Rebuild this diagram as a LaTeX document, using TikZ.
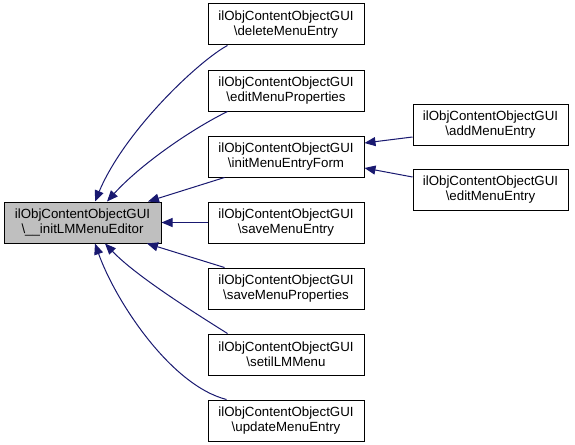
\documentclass[tikz,border=0pt]{standalone}
\usepackage{fontspec}
\setmainfont{Liberation Sans}
\usetikzlibrary{arrows.meta}
\definecolor{edgeblue}{RGB}{25,25,112}
\definecolor{mainfill}{RGB}{191,191,191}
\begin{document}
\begin{tikzpicture}[x=1pt,y=-1pt,
  box/.style={draw=black,line width=1pt,fill=white,minimum width=156pt,minimum height=41pt,inner sep=0pt,align=center,font=\fontsize{13.3}{15}\selectfont},
  edge/.style={draw=edgeblue,line width=1pt,{Triangle[length=11pt,width=9pt,fill=edgeblue]}-}]
\useasboundingbox (0,0) rectangle (575,444);
\node[box,fill=mainfill,minimum width=157pt] (main) at (82.5,222.5) {ilObjContentObjectGUI\\\textbackslash\_\_initLMMenuEditor};
\node[box] (del) at (286,24.5) {ilObjContentObjectGUI\\\textbackslash deleteMenuEntry};
\node[box] (eprop) at (286,90.5) {ilObjContentObjectGUI\\\textbackslash editMenuProperties};
\node[box] (init) at (286,156.5) {ilObjContentObjectGUI\\\textbackslash initMenuEntryForm};
\node[box] (save) at (286,222.5) {ilObjContentObjectGUI\\\textbackslash saveMenuEntry};
\node[box] (sprop) at (286,288.5) {ilObjContentObjectGUI\\\textbackslash saveMenuProperties};
\node[box] (setil) at (286,354.5) {ilObjContentObjectGUI\\\textbackslash setilLMMenu};
\node[box] (upd) at (286,420.5) {ilObjContentObjectGUI\\\textbackslash updateMenuEntry};
\node[box,minimum width=155pt] (add) at (490.5,124.5) {ilObjContentObjectGUI\\\textbackslash addMenuEntry};
\node[box,minimum width=155pt] (edit) at (490.5,190) {ilObjContentObjectGUI\\\textbackslash editMenuEntry};
\draw[edge] ([xshift=12.5pt]main.north) .. controls (125,130) and (200,60) .. ([xshift=20pt]del.south west);
\draw[edge] ([xshift=24.5pt]main.north) .. controls (140,165) and (190,130) .. ([xshift=20pt]eprop.south west);
\draw[edge] ([xshift=65.5pt]main.north) -- ([xshift=17pt]init.south west);
\draw[edge] (main.east) -- (save.west);
\draw[edge] ([xshift=64.5pt]main.south) -- ([xshift=17pt]sprop.north west);
\draw[edge] ([xshift=22.5pt]main.south) .. controls (135,275) and (190,310) .. ([xshift=20pt]setil.north west);
\draw[edge] ([xshift=12.5pt]main.south) .. controls (115,300) and (170,385) .. ([xshift=19pt]upd.north west);
\draw[edge] ([yshift=13.5pt]init.east) -- ([yshift=-12.5pt]add.west);
\draw[edge] ([yshift=-11.5pt]init.east) -- ([yshift=13pt]edit.west);
\end{tikzpicture}
\end{document}
